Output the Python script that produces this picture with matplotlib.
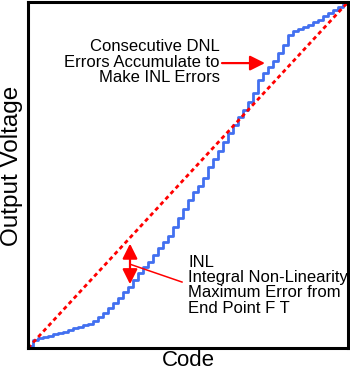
import numpy as np
import matplotlib
matplotlib.use("Agg")
from matplotlib import pyplot as plt

# digital input codes and measured output level (in LSB)
codes = np.arange(0, 65)
levels = [0.37, 1.48, 1.76, 2.03, 2.31, 2.59, 2.77, 3.05, 3.33, 3.61,
          3.88, 4.25, 4.53, 4.99, 5.73, 6.47, 7.40, 8.32, 9.25, 10.36,
          11.28, 12.58, 13.87, 14.98, 15.91, 17.20, 18.50, 19.61, 20.72, 22.38,
          24.05, 25.71, 27.38, 28.86, 29.97, 31.45, 33.48, 34.96, 36.44, 38.10,
          39.77, 41.25, 42.73, 44.02, 45.50, 47.17, 49.57, 50.87, 51.98, 53.09,
          54.57, 56.05, 57.90, 58.64, 59.01, 59.38, 59.75, 60.30, 60.67, 61.41,
          61.97, 62.52, 63.08, 63.63, 64.0]
ideal_x = [0, 64]
ideal_y = [0, 64]

plt.rcParams['font.family'] = ['Liberation Sans', 'DejaVu Sans']

fig = plt.figure(figsize=(3.5, 3.71), dpi=100)
ax = fig.add_axes([28/350, 23/371, 320/350, 346/371])

ax.plot(ideal_x, ideal_y, color='#ff0000', lw=2, linestyle=(0, (1.5, 1.2)),
        clip_on=False, zorder=3)
ax.step(codes, levels, where='post', color='#4270f0', lw=2,
        clip_on=False, zorder=2)

ax.set_xlim(0, 64)
ax.set_ylim(0, 64)
ax.set_xticks([])
ax.set_yticks([])
for s in ax.spines.values():
    s.set_linewidth(2.2)
    s.set_zorder(4)

# DNL annotation
ax.annotate('', xy=(47.4, 52.7), xytext=(38.8, 52.7),
            arrowprops=dict(arrowstyle='-|>,head_length=0.9,head_width=0.45',
                            color='#ff0000', lw=1.6, shrinkA=0, shrinkB=0))
ax.text(38.4, 52.9, 'Consecutive DNL\nErrors Accumulate to\nMake INL Errors',
        ha='right', va='center', multialignment='right', fontsize=12,
        linespacing=1.02)

# INL annotation
ax.annotate('', xy=(20.4, 19.3), xytext=(20.4, 11.8),
            arrowprops=dict(arrowstyle='<|-|>,head_length=0.9,head_width=0.45',
                            color='#ff0000', lw=1.6, shrinkA=0, shrinkB=0))
ax.plot([20.4, 30.8], [15.5, 12.2], color='#ff0000', lw=1.1)
ax.text(32.0, 17.2, 'INL\nIntegral Non-Linearity\nMaximum Error from\nEnd Point F T',
        ha='left', va='top', fontsize=12, linespacing=1.02)

fig.text(188/350, 1 - 361/371, 'Code', ha='center', va='center', fontsize=16)
fig.text(12/350, 1 - 165.5/371, 'Output Voltage', ha='center', va='center',
         rotation=90, fontsize=17.5)

fig.savefig('out.png', dpi=100)
